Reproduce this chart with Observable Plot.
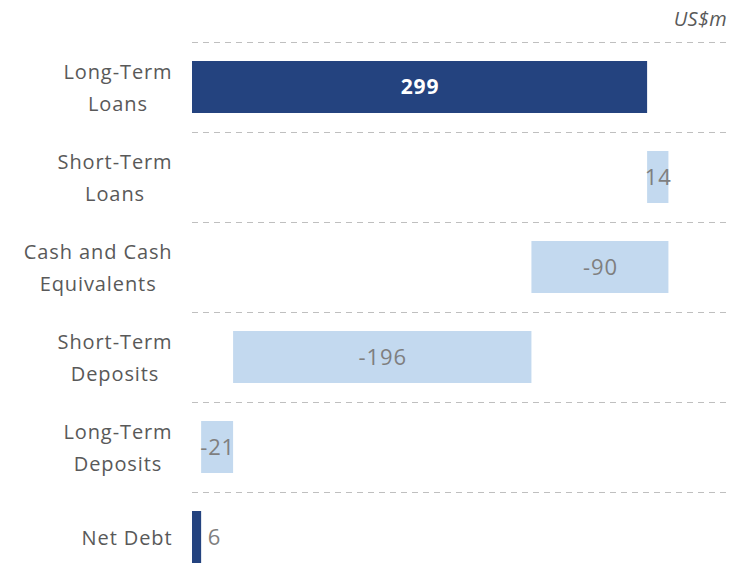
<!DOCTYPE html>
<html>
<head>
<meta charset="utf-8">
<script src="https://cdn.jsdelivr.net/npm/d3@7"></script>
<script src="https://cdn.jsdelivr.net/npm/@observablehq/plot@0.6"></script>
<style>
  html, body { margin: 0; padding: 0; background: #fff; }
  #chart { position: relative; width: 729px; height: 582px; }
  #unit { position: absolute; right: 2px; top: 5px; font-family: "Open Sans", sans-serif; font-style: italic; font-size: 20px; color: #595959; letter-spacing: 0.3px; }
</style>
</head>
<body>
<div id="chart"><div id="unit">US$m</div></div>
<script>
const categories = ["Long-Term\nLoans", "Short-Term\nLoans", "Cash and Cash\nEquivalents", "Short-Term\nDeposits", "Long-Term\nDeposits", "Net Debt"];
const values = [299, 14, -90, -196, -21, 6];
const kinds = ["total", "delta", "delta", "delta", "delta", "total"];
const labels = ["299", "14", "-90", "-196", "-21", "6"];

let run = 0;
const rows = categories.map((c, i) => {
  let start, end;
  if (kinds[i] === "total") { start = 0; end = values[i]; run = values[i]; }
  else { start = run; end = run + values[i]; run = end; }
  return { cat: c, start, end, mid: (start + end) / 2, kind: kinds[i], label: labels[i], idx: i };
});

const chart = Plot.plot({
  width: 729,
  height: 582,
  marginTop: 42,
  marginBottom: 0,
  marginLeft: 192,
  marginRight: 0,
  style: { fontFamily: "'Open Sans', sans-serif", background: "transparent" },
  x: { domain: [0, 352.8], axis: null },
  y: { domain: categories, paddingInner: 0.42, paddingOuter: 0.21, label: null },
  marks: [
    Plot.ruleY(categories, { y: d => d, dy: -45, stroke: "#bfbfbf", strokeDasharray: "6,5", strokeWidth: 1.2 }),
    Plot.barX(rows, { y: "cat", x1: "start", x2: "end", fill: d => d.kind === "total" ? "#24437f" : "#c3d9ef" }),
    Plot.text(rows.filter(d => d.idx === 0), { y: "cat", x: "mid", text: "label", fill: "white", fontWeight: "bold", fontSize: 21 }),
    Plot.text(rows.filter(d => d.idx > 0 && d.idx < 5), { y: "cat", x: "mid", text: "label", fill: "#7f7f7f", fontSize: 22 }),
    Plot.text(rows.filter(d => d.idx === 5), { y: "cat", x: "end", text: "label", fill: "#7f7f7f", fontSize: 22, textAnchor: "start", dx: 6 }),
    Plot.axisY({ tickSize: 0, tickPadding: 20, fontSize: 20, lineHeight: 1.6, dy: -3, fill: "#595959", label: null, textAnchor: "end" })
  ]
});
chart.style.position = "absolute";
chart.style.left = "0";
chart.style.top = "0";
chart.querySelectorAll("text").forEach(t => t.setAttribute("letter-spacing", "0.9"));
document.getElementById("chart").appendChild(chart);
// center each multi-line label within its block, keeping the block's right edge
chart.querySelectorAll('g[aria-label="y-axis tick label"] text').forEach(t => {
  const w = t.getBBox().width;
  t.setAttribute("text-anchor", "middle");
  const tr = t.getAttribute("transform") || "";
  t.setAttribute("transform", tr + ` translate(${-w / 2},0)`);
});
</script>
</body>
</html>
